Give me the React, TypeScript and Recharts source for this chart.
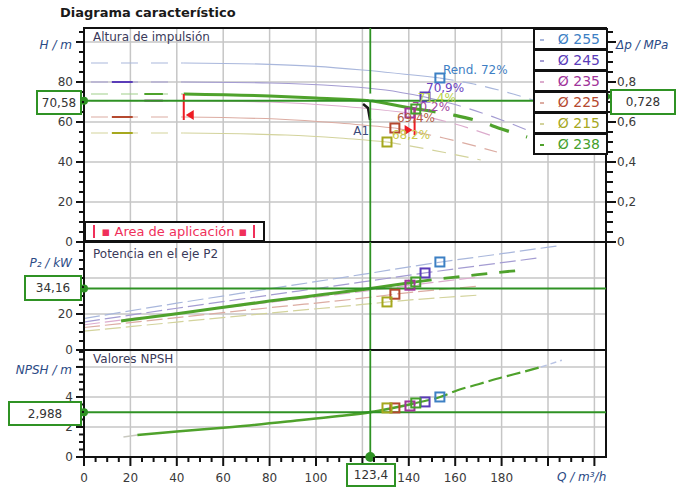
import React from 'react';
import {
  ComposedChart,
  Line,
  XAxis,
  YAxis,
  CartesianGrid,
  ReferenceLine,
  ReferenceDot,
  ReferenceArea,
} from 'recharts';

const W = 678;
const HT = 495;
const FONT = '"DejaVu Sans", Verdana, sans-serif';
const GREEN = '#2f9224';
const CURVE_GREEN = '#4fa22c';

// legend / diameters
const DIAMETERS = ['Ø 255', 'Ø 245', 'Ø 235', 'Ø 225', 'Ø 215', 'Ø 238'];
const DIAM_COLORS = ['#3d80c4', '#5a3cb8', '#a0349a', '#b5492f', '#a6a81e', '#45a02c'];
const FAINT = ['#a9b7dc', '#a49cd2', '#dcaccd', '#dcaca2', '#d3d39c', '#4fa22c'];
const BEP_TXT_COLORS = ['#3f7fc4', '#6a42c0', '#a044a0', '#b25a44', '#c9c94a', '#b6d24a'];

// operating point
const OP_Q = 123.4;
const OP_H = 70.58;
const OP_DP = 0.728;
const OP_P = 34.16;
const OP_NPSH = 2.988;

// Q-H curves (m3/h, m)
const QH_255 = [3, 43, 80, 100, 120, 153.4, 168, 185, 200];
const H_255 = [89.5, 89.5, 88.8, 87.8, 86, 82, 79, 74, 68.5];
const QH_245 = [3, 43, 80, 110, 130, 147, 165, 180, 195];
const H_245 = [80, 80, 79.5, 78, 76, 72.5, 67, 61, 54];
const QH_235 = [3, 43, 80, 110, 140.5, 160, 176];
const H_235 = [70.7, 70.7, 70, 68, 64.5, 59, 53];
const QH_225 = [3, 43, 83, 110, 134, 155, 178];
const H_225 = [62.5, 62.5, 61.5, 59.5, 57, 52, 45];
const QH_215 = [3, 43, 87, 110, 130.6, 150, 171];
const H_215 = [54.5, 54.5, 53.5, 52, 50, 46, 41];
const QH_238 = [3, 43, 80, 100, 123.4, 136, 143, 160, 170, 180, 191];
const H_238 = [74, 74, 73, 72, 70.58, 68, 66.5, 63.3, 60.5, 56.5, 52.5];

// short marks at low flow
const STUB_FROM = [0, 12, 26, 12, 12, 26];
const STUB_TO = [0, 21, 34, 21, 21, 34];

// Q-P2 curves (m3/h, kW)
const QP_255 = [0, 40, 80, 120, 154, 180, 205];
const P_255 = [17.5, 26, 34, 42, 48.9, 53.5, 58];
const QP_245 = [0, 40, 80, 120, 147, 170, 195];
const P_245 = [15.5, 23.2, 30.5, 37.8, 42.8, 46.8, 51];
const QP_235 = [0, 40, 80, 120, 141, 170];
const P_235 = [14, 20.5, 26.5, 32.5, 36, 40.5];
const QP_225 = [0, 40, 80, 120, 134, 170];
const P_225 = [12.5, 18, 23.5, 28.8, 31, 35.5];
const QP_215 = [0, 40, 80, 120, 131, 170];
const P_215 = [10.5, 15.5, 20.5, 25.3, 26.7, 30.5];
const QP_238 = [16, 40, 80, 123.4, 143, 150, 164, 180, 190];
const P_238 = [16.1, 20.2, 27.2, 34.16, 37.8, 39, 41, 43.3, 44.5];

// Q-NPSH curve (m3/h, m)
const QN = [17, 23, 40, 64, 90, 110, 123.4, 143, 153.5, 161, 170, 180, 190, 197, 206];
const NPSH = [1.33, 1.47, 1.7, 2.0, 2.4, 2.73, 2.988, 3.6, 4.0, 4.45, 4.85, 5.3, 5.7, 6.0, 6.45];

// best efficiency points per diameter
const BEP_Q = [153.4, 147, 140.5, 134, 130.6, 143];
const BEP_H = [82, 72.5, 64.5, 57, 50, 66.5];
const BEP_P = [48.9, 42.8, 36, 31, 26.7, 37.8];
const BEP_N = [4.0, 3.67, 3.4, 3.27, 3.27, 3.6];
const BEP_EFF = ['Rend.  72%', '70,9%', '70,2%', '69,4%', '68,2%', '71,4%'];
const BEP_DX = [3, 1, 2, 2, 5, 2];
const BEP_DY = [-8, -9, -6, -10, -7, -11];

// A1 marker
const A1_Q = [120.3, 122.4, 123.3];
const A1_H = [69, 67, 61];

// axis ticks
const X_LABELS = [0, 20, 40, 60, 80, 100, 140, 160, 180];
const X_GRID = [20, 40, 60, 80, 100, 120, 140, 160, 180, 200, 220];
const H_LABELS = [0, 20, 40, 60, 80];
const DP_LABELS = [0, 0.2, 0.4, 0.6, 0.8];
const P_LABELS = [0, 20];
const N_LABELS = [0, 2, 4];

const steps = (to: number, step: number) =>
  Array.from({ length: Math.round(to / step) + 1 }, (_, i) => Math.round(i * step * 1000) / 1000);

const toPts = (qs: number[], vs: number[], from = -1, to = 1e9) =>
  qs.map((q, i) => ({ q, v: vs[i] })).filter(d => d.q >= from && d.q <= to);

const fmt = (v: number) => String(v).replace('.', ',');
const near = (a: number, b: number) => Math.abs(a - b) < 1e-6;

const tickText = { fontFamily: FONT, fontSize: 12, fill: '#3a3a3a' };
const titleText = { fontFamily: FONT, fontSize: 12, fill: '#2b4a85', fontStyle: 'italic' as const };

type TickCfg = {
  side: 'left' | 'right' | 'bottom';
  majors: number[];
  labels: number[];
  title?: [number, string];
};

const makeTick = (c: TickCfg) => (p: any) => {
  const v = Math.round(p.payload.value * 1000) / 1000;
  const major = c.majors.some(m => near(m, v));
  const { x, y } = p;
  const lbl = c.labels.some(m => near(m, v)) ? fmt(v) : null;
  const title = c.title && near(c.title[0], v) ? c.title[1] : null;
  if (c.side === 'left') {
    const len = major ? 8 : 5;
    return (
      <g>
        <line x1={x - len} x2={x} y1={y} y2={y} stroke="#111" strokeWidth={2} />
        {lbl !== null && <text x={x - 11} y={y} dy={4} textAnchor="end" {...tickText}>{lbl}</text>}
        {title && <text x={x - 12} y={y} dy={7} textAnchor="end" {...titleText}>{title}</text>}
      </g>
    );
  }
  if (c.side === 'right') {
    const len = major ? 10 : 7;
    return (
      <g>
        <line x1={x} x2={x + len} y1={y} y2={y} stroke="#111" strokeWidth={2} />
        {lbl !== null && <text x={x + 11} y={y} dy={4} textAnchor="start" {...tickText}>{lbl}</text>}
        {title && <text x={x + 10} y={y} dy={7} textAnchor="start" {...titleText}>{title}</text>}
      </g>
    );
  }
  const len = major ? 9 : 5;
  return (
    <g>
      <line x1={x} x2={x} y1={y} y2={y + len} stroke="#111" strokeWidth={2} />
      {lbl !== null && <text x={x} y={y + 25} textAnchor="middle" {...tickText}>{lbl}</text>}
    </g>
  );
};

const square = (color: string) => (p: any) => (
  <rect x={p.cx - 4.5} y={p.cy - 4.5} width={9} height={9} fill="none" stroke={color} strokeWidth={2} />
);

const bepShape = (i: number) => (p: any) => (
  <g>
    <text x={p.cx + BEP_DX[i]} y={p.cy + BEP_DY[i]} dy={4} fontFamily={FONT} fontSize={12} fill={BEP_TXT_COLORS[i]}>
      {BEP_EFF[i]}
    </text>
    <rect x={p.cx - 4.5} y={p.cy - 4.5} width={9} height={9} fill="none" stroke={DIAM_COLORS[i]} strokeWidth={2} />
  </g>
);

const triLeft = (p: any) => (
  <polygon points={`${p.cx + 2},${p.cy} ${p.cx + 10},${p.cy - 5} ${p.cx + 10},${p.cy + 5}`} fill="#ee1c24" />
);
const triRight = (p: any) => (
  <polygon points={`${p.cx - 2},${p.cy} ${p.cx - 10},${p.cy - 5} ${p.cx - 10},${p.cy + 5}`} fill="#ee1c24" />
);
const greenTri = (p: any) => (
  <polygon points={`${p.cx + 6},${p.cy} ${p.cx},${p.cy - 5} ${p.cx},${p.cy + 5}`} fill={GREEN} />
);
const a1Text = (p: any) => (
  <text x={p.cx} y={p.cy} dy={4} textAnchor="middle" fontFamily={FONT} fontSize={12} fill="#3a4a7a">A1</text>
);

const frameProps = { fill: 'none', stroke: '#111', strokeWidth: 2, fillOpacity: 0 };
const line = { dot: false, isAnimationActive: false, type: 'monotone' as const, dataKey: 'v' };

const H_CURVES = [
  [QH_255, H_255],
  [QH_245, H_245],
  [QH_235, H_235],
  [QH_225, H_225],
  [QH_215, H_215],
];
const P_CURVES = [
  [QP_255, P_255],
  [QP_245, P_245],
  [QP_235, P_235],
  [QP_225, P_225],
  [QP_215, P_215],
];

const abs: React.CSSProperties = { position: 'absolute', left: 0, top: 0 };

function TopPanel() {
  return (
    <ComposedChart width={W} height={HT} margin={{ top: 28, right: 12, bottom: 253, left: 24 }} style={abs}>
      <CartesianGrid stroke="#c6c6c6" strokeWidth={1.5} horizontalValues={[20, 40, 60, 80, 100]} verticalValues={X_GRID} />
      <XAxis type="number" dataKey="q" domain={[0, 225]} hide allowDataOverflow />
      <YAxis
        type="number" domain={[0, 107]} ticks={steps(105, 5)} interval={0} width={60}
        tickSize={0} tickMargin={0} axisLine={{ stroke: '#111', strokeWidth: 2 }}
        tick={makeTick({ side: 'left', majors: [0, 20, 40, 60, 80, 100], labels: H_LABELS, title: [100, 'H / m'] })}
      />
      <YAxis
        yAxisId="dp" orientation="right" type="number" domain={[0, 1.07]} ticks={steps(1.05, 0.05)} interval={0} width={60}
        tickSize={0} tickMargin={0} axisLine={false} allowDataOverflow
        tick={makeTick({ side: 'right', majors: [0, 0.2, 0.4, 0.6, 0.8, 1], labels: DP_LABELS, title: [1, 'Δp / MPa'] })}
      />
      {/* operating pressure on the Δp axis (keeps the right axis bound to a series) */}
      <Line {...line} yAxisId="dp" type="linear" data={[{ q: OP_Q, v: OP_DP }]} stroke="none" />
      {H_CURVES.map(([qs, hs], i) => (
        <React.Fragment key={i}>
          <Line {...line} data={toPts(qs, hs, 0, 43)} stroke={FAINT[i]} strokeWidth={1.2} strokeDasharray="17 13" />
          <Line {...line} data={toPts(qs, hs, 43, BEP_Q[i])} stroke={FAINT[i]} strokeWidth={1.2} />
          <Line {...line} data={toPts(qs, hs, BEP_Q[i])} stroke={FAINT[i]} strokeWidth={1.2} strokeDasharray="14 9" />
          {STUB_TO[i] > 0 && (
            <Line {...line} type="linear" data={[{ q: STUB_FROM[i], v: hs[0] }, { q: STUB_TO[i], v: hs[0] }]} stroke={DIAM_COLORS[i]} strokeWidth={2} />
          )}
        </React.Fragment>
      ))}
      <Line {...line} data={toPts(QH_238, H_238, 0, 43)} stroke="#9fcf8a" strokeWidth={1.2} strokeDasharray="17 13" />
      <Line {...line} type="linear" data={[{ q: STUB_FROM[5], v: H_238[0] }, { q: STUB_TO[5], v: H_238[0] }]} stroke={CURVE_GREEN} strokeWidth={2} />
      <Line {...line} data={toPts(QH_238, H_238, 43, 143)} stroke={CURVE_GREEN} strokeWidth={3} />
      <Line {...line} data={toPts(QH_238, H_238, 143)} stroke={CURVE_GREEN} strokeWidth={3.2} strokeDasharray="20 18" />
      <Line {...line} type="linear" data={toPts(A1_Q, A1_H)} stroke="#1a1a1a" strokeWidth={2.5} />
      <ReferenceDot x={119.5} y={55.5} r={1} shape={a1Text} ifOverflow="visible" />

      <ReferenceLine segment={[{ x: 43, y: 61 }, { x: 43, y: 74 }]} stroke="#ee1c24" strokeWidth={2} />
      <ReferenceDot x={43} y={63.5} r={1} shape={triLeft} />
      <ReferenceLine segment={[{ x: 142.5, y: 53.5 }, { x: 142.5, y: 67 }]} stroke="#ee1c24" strokeWidth={2} />
      <ReferenceDot x={142.5} y={56} r={1} shape={triRight} />

      {BEP_Q.map((q, i) => (
        <ReferenceDot key={i} x={q} y={BEP_H[i]} r={1} shape={bepShape(i)} ifOverflow="visible" />
      ))}

      <ReferenceLine y={OP_H} stroke={GREEN} strokeWidth={2} />
      <ReferenceLine x={OP_Q} stroke={GREEN} strokeWidth={1.8} />
      <ReferenceDot x={0} y={OP_H} r={4} fill={GREEN} stroke="none" ifOverflow="visible" />
      <ReferenceDot yAxisId="dp" x={225} y={OP_DP} r={1} shape={greenTri} ifOverflow="visible" />
      <ReferenceArea x1={0} x2={225} y1={0} y2={107} {...frameProps} ifOverflow="visible" />
    </ComposedChart>
  );
}

function MidPanel() {
  return (
    <ComposedChart width={W} height={HT} margin={{ top: 242, right: 72, bottom: 145, left: 24 }} style={abs}>
      <CartesianGrid stroke="#c6c6c6" strokeWidth={1.5} horizontalValues={[20, 40]} verticalValues={X_GRID} />
      <XAxis type="number" dataKey="q" domain={[0, 225]} hide allowDataOverflow />
      <YAxis
        type="number" domain={[0, 60]} ticks={steps(55, 5)} interval={0} width={60}
        tickSize={0} tickMargin={0} axisLine={{ stroke: '#111', strokeWidth: 2 }}
        tick={makeTick({ side: 'left', majors: [0, 20, 40], labels: P_LABELS, title: [50, 'P₂ / kW'] })}
      />
      {P_CURVES.map(([qs, ps], i) => (
        <Line key={i} {...line} data={toPts(qs, ps)} stroke={FAINT[i]} strokeWidth={1.2} strokeDasharray="16 5" />
      ))}
      <Line {...line} data={toPts(QP_238, P_238, 0, 143)} stroke={CURVE_GREEN} strokeWidth={3} />
      <Line {...line} data={toPts(QP_238, P_238, 143)} stroke={CURVE_GREEN} strokeWidth={2.8} strokeDasharray="16 12" />
      {BEP_Q.map((q, i) => (
        <ReferenceDot key={i} x={q} y={BEP_P[i]} r={1} shape={square(DIAM_COLORS[i])} ifOverflow="visible" />
      ))}
      <ReferenceLine y={OP_P} stroke={GREEN} strokeWidth={2} />
      <ReferenceLine x={OP_Q} stroke={GREEN} strokeWidth={1.8} />
      <ReferenceDot x={0} y={OP_P} r={4} fill={GREEN} stroke="none" ifOverflow="visible" />
      <ReferenceArea x1={0} x2={225} y1={0} y2={60} {...frameProps} ifOverflow="visible" />
    </ComposedChart>
  );
}

function NpshPanel() {
  return (
    <ComposedChart width={W} height={HT} margin={{ top: 350, right: 72, bottom: 8, left: 24 }} style={abs}>
      <CartesianGrid stroke="#c6c6c6" strokeWidth={1.5} horizontalValues={[2, 4, 6]} verticalValues={X_GRID} />
      <XAxis
        type="number" dataKey="q" domain={[0, 225]} ticks={steps(220, 5)} interval={0} height={30}
        tickSize={0} tickMargin={0} axisLine={{ stroke: '#111', strokeWidth: 2 }} allowDataOverflow
        tick={makeTick({ side: 'bottom', majors: [0, 20, 40, 60, 80, 100, 120, 140, 160, 180, 200, 220], labels: X_LABELS })}
      />
      <YAxis
        type="number" domain={[0, 7.13]} ticks={steps(7, 0.5)} interval={0} width={60}
        tickSize={0} tickMargin={0} axisLine={{ stroke: '#111', strokeWidth: 2 }}
        tick={makeTick({ side: 'left', majors: [0, 2, 4, 6], labels: N_LABELS, title: [6, 'NPSH  / m'] })}
      />
      <Line {...line} data={toPts(QN, NPSH, 0, 23)} stroke="#c9c9c0" strokeWidth={1.5} />
      <Line {...line} data={toPts(QN, NPSH, 23, 143)} stroke={CURVE_GREEN} strokeWidth={2.6} />
      <Line {...line} data={toPts(QN, NPSH, 143, 197)} stroke={CURVE_GREEN} strokeWidth={2.2} strokeDasharray="14 5" />
      <Line {...line} data={toPts(QN, NPSH, 197)} stroke="#b9c4e4" strokeWidth={1.5} strokeDasharray="6 4" />
      {BEP_Q.map((q, i) => (
        <ReferenceDot key={i} x={q} y={BEP_N[i]} r={1} shape={square(DIAM_COLORS[i])} ifOverflow="visible" />
      ))}
      <ReferenceLine y={OP_NPSH} stroke={GREEN} strokeWidth={2} />
      <ReferenceLine x={OP_Q} stroke={GREEN} strokeWidth={1.8} />
      <ReferenceDot x={0} y={OP_NPSH} r={4} fill={GREEN} stroke="none" ifOverflow="visible" />
      <ReferenceDot x={OP_Q} y={0} r={5} fill={GREEN} stroke="none" ifOverflow="visible" />
      <ReferenceArea x1={0} x2={225} y1={0} y2={7.13} {...frameProps} ifOverflow="visible" />
    </ComposedChart>
  );
}

const box = (left: number, top: number, width: number, height: number): React.CSSProperties => ({
  position: 'absolute', left, top, width, height, boxSizing: 'border-box',
  border: `2px solid ${GREEN}`, background: '#fff', fontFamily: FONT, fontSize: 12, color: '#333',
  display: 'flex', alignItems: 'center', justifyContent: 'center',
});

const txt = (left: number, top: number, extra: React.CSSProperties = {}): React.CSSProperties => ({
  position: 'absolute', left, top, fontFamily: FONT, fontSize: 12, color: '#3a3a5a', whiteSpace: 'nowrap', ...extra,
});

export default function App() {
  return (
    <div style={{ position: 'relative', width: W, height: HT, background: '#fff', overflow: 'hidden' }}>
      <style>{'body{margin:0}'}</style>
      <div style={txt(60, 5, { fontWeight: 'bold', fontSize: 13, color: '#1a1a1a' })}>Diagrama característico</div>
      <TopPanel />
      <MidPanel />
      <NpshPanel />

      <div style={txt(93, 30)}>Altura de impulsión</div>
      <div style={txt(93, 247)}>Potencia en el eje P2</div>
      <div style={txt(93, 352)}>Valores NPSH</div>

      <div style={{
        position: 'absolute', left: 84, top: 221, width: 181, height: 21, boxSizing: 'border-box',
        border: '2px solid #111', background: '#fff', fontFamily: FONT, fontSize: 13, color: '#f0305a',
        display: 'flex', alignItems: 'center', justifyContent: 'center', whiteSpace: 'nowrap',
      }}>
        <span style={{ position: 'absolute', left: 7, top: 2, bottom: 2, borderLeft: '2px solid #f0305a' }} />
        ▪ Area de aplicación ▪
        <span style={{ position: 'absolute', right: 8, top: 2, bottom: 2, borderLeft: '2px solid #f0305a' }} />
      </div>

      {DIAMETERS.map((d, i) => (
        <div key={d} style={{
          position: 'absolute', left: 533, top: 28 + i * 21, width: 75, height: 22, boxSizing: 'border-box',
          border: '2px solid #111', background: '#fff', fontFamily: FONT, fontSize: 14, color: DIAM_COLORS[i],
        }}>
          <span style={{ position: 'absolute', left: 5, top: 9, width: 4, height: 2, background: FAINT[i] }} />
          <span style={{ position: 'absolute', right: 6, top: 1 }}>{d}</span>
        </div>
      ))}

      <div style={box(36, 90, 46, 25)}>{fmt(OP_H)}</div>
      <div style={box(610, 89, 66, 26)}>{fmt(OP_DP)}</div>
      <div style={box(24, 275, 58, 26)}>{fmt(OP_P)}</div>
      <div style={box(8, 401, 74, 25)}>{fmt(OP_NPSH)}</div>
      <div style={box(346, 463, 50, 24)}>{fmt(OP_Q)}</div>

      <div style={txt(557, 470, { fontStyle: 'italic', color: '#2b4a85' })}>Q / m³/h</div>
    </div>
  );
}
